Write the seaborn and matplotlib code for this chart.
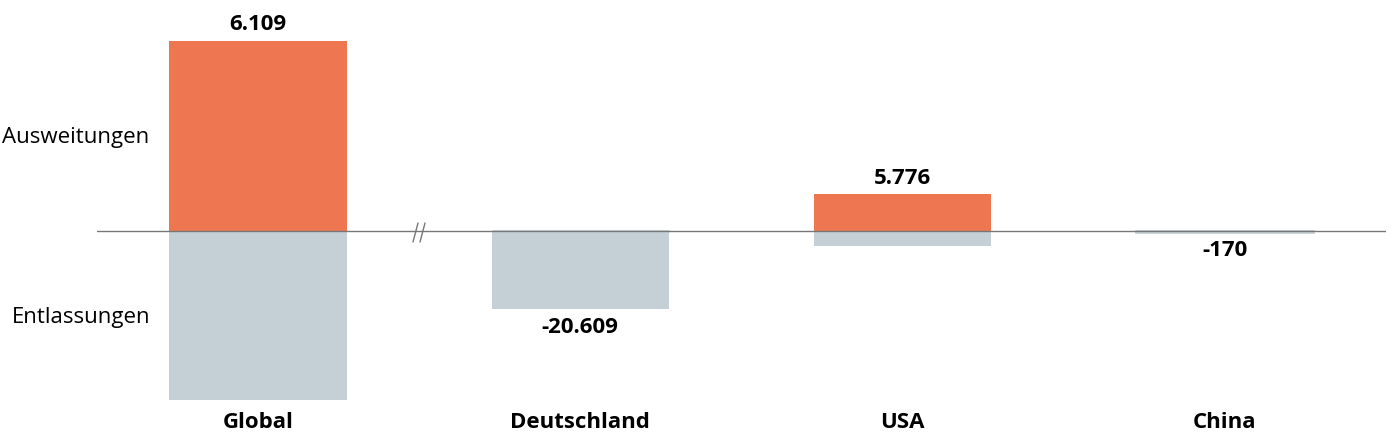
import pandas as pd
import numpy as np
import matplotlib
matplotlib.use("Agg")
import matplotlib.pyplot as plt
from matplotlib.lines import Line2D
import seaborn as sns

# values (net value is the printed label)
regions = ["Global", "Deutschland", "USA", "China"]
ausweitungen = [55375, 0, 9700, 0]
entlassungen = [49266, 20609, 3924, 170]
netto = [6109, -20609, 5776, -170]

orange = "#EE7751"
grey = "#C5D0D6"

sns.set_theme(style="white")
plt.rcParams['font.family'] = ['Open Sans', 'DejaVu Sans']

df = pd.DataFrame({
    "Region": regions * 2,
    "Wert": ausweitungen + [-v for v in entlassungen],
    "Typ": ["Ausweitungen"] * 4 + ["Entlassungen"] * 4,
})

fig = plt.figure(figsize=(13.93, 4.46), dpi=100)
bottom, height = 46 / 446, 370 / 446
ax1 = fig.add_axes([97 / 1393, bottom, 322 / 1393, height])
ax2 = fig.add_axes([419 / 1393, bottom, 967 / 1393, height])

# zero line sits 169 px above axes bottom, 201 px below top
frac = 201 / 169

def draw(ax, sub, scale_low):
    sns.barplot(data=sub, x="Region", y="Wert", hue="Typ", dodge=False,
                palette={"Ausweitungen": orange, "Entlassungen": grey},
                width=0.55, ax=ax, legend=False, saturation=1,
                edgecolor=None, linewidth=0)
    for p in ax.patches:
        if abs(p.get_height()) < 1000:
            p.set_edgecolor(grey)
            p.set_linewidth(2)
    ax.set_ylim(-scale_low, scale_low * frac)
    ax.axhline(0, color="#777777", lw=1, zorder=5)
    for s in ax.spines.values():
        s.set_visible(False)
    ax.set_xlabel("")
    ax.set_ylabel("")
    ax.set_yticks([])
    ax.tick_params(axis="x", length=0, pad=8.5)
    for t in ax.get_xticklabels():
        t.set_fontweight("bold")
        t.set_fontsize(16)
        t.set_color("black")

glob = df[df.Region == "Global"]
rest = df[df.Region != "Global"]
draw(ax1, glob, 49266)
draw(ax2, rest, 169 * 264)
ax1.set_xlim(-0.5, 0.5)
ax2.set_xlim(-0.5, 2.5)

def label(ax, x, i):
    n = netto[i]
    txt = f"{n:,}".replace(",", ".")
    if n >= 0:
        ax.annotate(txt, (x, ausweitungen[i]), xytext=(0, 4), textcoords="offset points",
                    ha="center", va="bottom", fontsize=16, fontweight="bold", color="black")
    else:
        ax.annotate(txt, (x, -entlassungen[i]), xytext=(0, -6), textcoords="offset points",
                    ha="center", va="top", fontsize=16, fontweight="bold", color="black")

label(ax1, 0, 0)
for j in range(1, 4):
    label(ax2, j - 1, j)

# axis break mark: two slanted strokes over the zero line
W, H = 1393, 446
for x0 in (413, 420):
    fig.add_artist(Line2D([x0 / W, (x0 + 5) / W], [1 - 242 / H, 1 - 223 / H],
                          color="#777777", lw=1))

fig.text(2 / W, 1 - 137 / H, "Ausweitungen", ha="left", va="center", fontsize=16, color="black")
fig.text(12 / W, 1 - 317 / H, "Entlassungen", ha="left", va="center", fontsize=16, color="black")

fig.savefig("out.png", dpi=100)
